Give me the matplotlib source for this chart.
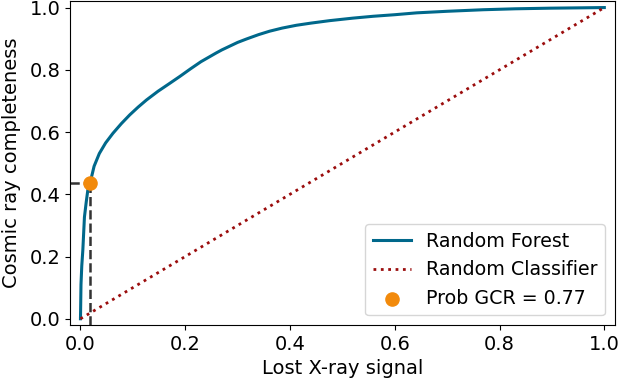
import matplotlib
matplotlib.use("Agg")
import matplotlib.pyplot as plt

# ROC curve of the Random Forest (false positive rate vs true positive rate)
fpr = [0.0, 0.0003, 0.001, 0.0025, 0.0045, 0.0076, 0.011, 0.014, 0.0185, 0.026, 0.036,
       0.048, 0.062, 0.078, 0.094, 0.11, 0.126, 0.148, 0.17, 0.19, 0.21, 0.23, 0.259,
       0.27, 0.285, 0.30, 0.317, 0.34, 0.361, 0.385, 0.412, 0.44, 0.476, 0.52, 0.559,
       0.60, 0.642, 0.70, 0.769, 0.83, 0.897, 0.95, 1.0]
tpr = [0.0, 0.03, 0.11, 0.17, 0.22, 0.327, 0.375, 0.413, 0.437, 0.49, 0.531,
       0.565, 0.596, 0.627, 0.655, 0.68, 0.703, 0.731, 0.756, 0.779, 0.803, 0.826, 0.854,
       0.864, 0.876, 0.888, 0.899, 0.913, 0.924, 0.934, 0.943, 0.950, 0.958, 0.966, 0.972,
       0.977, 0.983, 0.988, 0.993, 0.996, 0.998, 0.999, 1.0]

chance = [0.0, 1.0]
op_fpr = 0.0185
op_tpr = 0.437
op_label = "Prob GCR = 0.77"

plt.rcParams['font.family'] = ['DejaVu Sans']
fig = plt.figure(figsize=(6.21, 3.79), dpi=100)
ax = fig.add_axes([0.1127, 0.1425, 0.8773, 0.854])

ax.plot(fpr, tpr, color='#00688b', lw=2.2, label='Random Forest')
ax.plot(chance, chance, color='#9b0d0d', lw=2, ls=':', label='Random Classifier')
ax.plot([-0.02, op_fpr], [op_tpr, op_tpr], color='#333333', ls='--', lw=1.8)
ax.plot([op_fpr, op_fpr], [-0.02, op_tpr], color='#333333', ls='--', lw=1.8)
ax.scatter([op_fpr], [op_tpr], s=90, color='#f28a0c', zorder=5, label=op_label)

ax.set_xlim(-0.02, 1.02)
ax.set_ylim(-0.02, 1.02)
ax.set_xticks([0.0, 0.2, 0.4, 0.6, 0.8, 1.0])
ax.set_yticks([0.0, 0.2, 0.4, 0.6, 0.8, 1.0])
ax.tick_params(labelsize=14)
ax.set_xlabel('Lost X-ray signal', fontsize=14)
ax.set_ylabel('Cosmic ray completeness', fontsize=14, labelpad=6)
ax.legend(loc='lower right', fontsize=13.7)

fig.savefig('out.png', dpi=100)
